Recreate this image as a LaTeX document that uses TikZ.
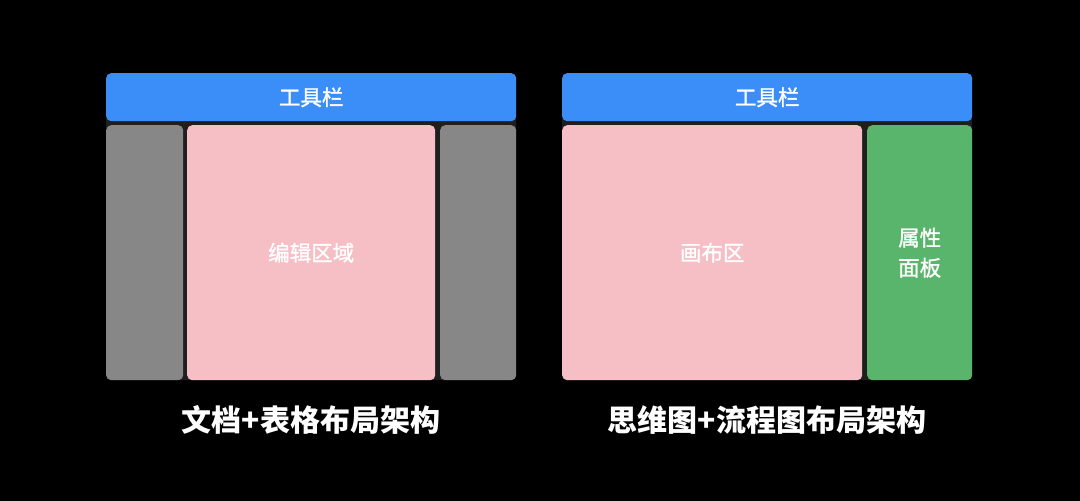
\documentclass[tikz,border=0pt]{standalone}
\usepackage{fontspec}
\newfontfamily\cjk{Noto Sans CJK SC}
\newfontfamily\cjkmed{Noto Sans CJK SC}[FakeBold=1.3]
\definecolor{toolblue}{HTML}{3B8DF7}
\definecolor{sidegray}{HTML}{878787}
\definecolor{areapink}{HTML}{F6BFC5}
\definecolor{panelgreen}{HTML}{59B56B}
\definecolor{backdrop}{HTML}{1F1F1F}

\begin{document}
\begin{tikzpicture}[x=1pt,y=-1pt,
  box/.style={rectangle,rounded corners=5pt,anchor=north west,inner sep=0pt,
    text=white,font=\cjkmed\fontsize{21.5}{30}\selectfont,align=center},
  caption/.style={text=white,font=\cjk\bfseries\fontsize{30}{36}\selectfont}]
\fill[black] (0,0) rectangle (1080,501);
\useasboundingbox (0,0) rectangle (1080,501);
% document + table layout
\fill[backdrop,rounded corners=5pt] (106,73) rectangle (516,380);
\node at (106,73) [box,fill=toolblue,minimum width=410pt,minimum height=48pt] (toolA) {工具栏};
\node at (106,125) [box,fill=sidegray,minimum width=77pt,minimum height=255pt] (leftA) {};
\node at (187,125) [box,fill=areapink,minimum width=248pt,minimum height=255pt] (editA) {编辑区域};
\node at (440,125) [box,fill=sidegray,minimum width=76pt,minimum height=255pt] (rightA) {};
\node at (311,420) [caption] (capA) {文档+表格布局架构};
% mind map + flowchart layout
\fill[backdrop,rounded corners=5pt] (562,73) rectangle (972,380);
\node at (562,73) [box,fill=toolblue,minimum width=410pt,minimum height=48pt] (toolB) {工具栏};
\node at (562,125) [box,fill=areapink,minimum width=300pt,minimum height=255pt] (canvasB) {画布区};
\node at (867,125) [box,fill=panelgreen,minimum width=105pt,minimum height=255pt] (propB) {属性\\面板};
\node at (767,420) [caption] (capB) {思维图+流程图布局架构};
\end{tikzpicture}
\end{document}
